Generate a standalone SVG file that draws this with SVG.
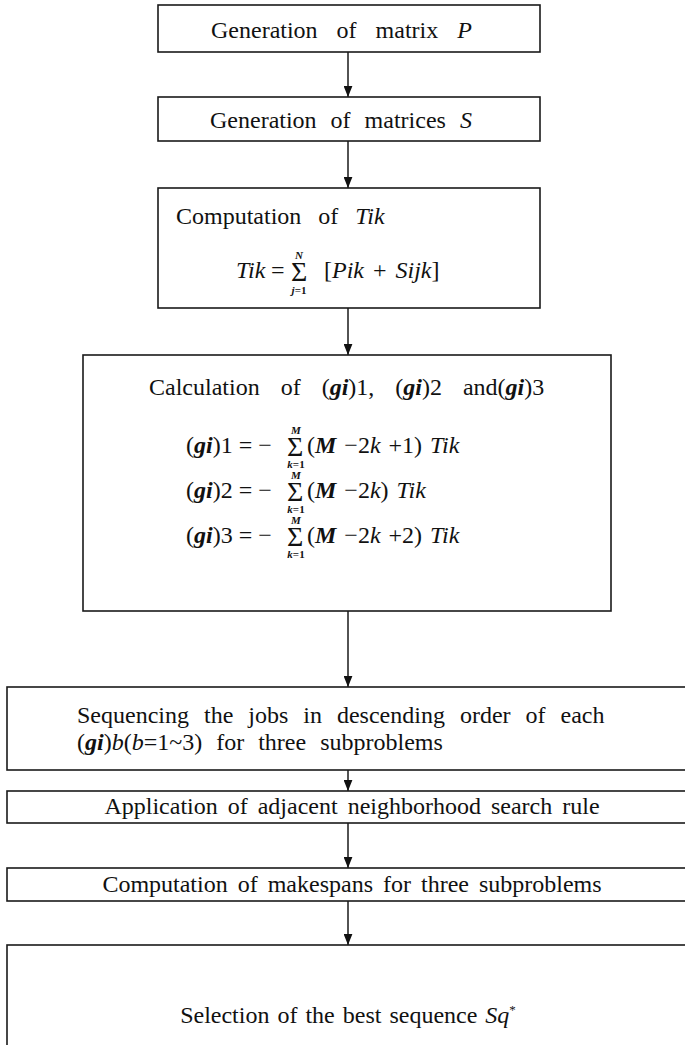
<svg xmlns="http://www.w3.org/2000/svg" width="685" height="1045" viewBox="0 0 685 1045" font-family="'Liberation Serif', 'Times New Roman', serif">
  <style>
    .box { fill: #ffffff; stroke: #1a1a1a; stroke-width: 1.6; }
    .link { fill: none; stroke: #1a1a1a; stroke-width: 1.5; }
    text { font-family: "Liberation Serif", "Times New Roman", serif; fill: #111; }
    .t { font-size: 24px; }
    .i { font-style: italic; }
    .bi { font-style: italic; font-weight: bold; }
    .sig { font-size: 28px; }
    .lim { font-size: 11px; font-style: italic; font-weight: bold; }
  </style>
  <defs>
    <marker id="arrow" viewBox="0 0 10 8" refX="10" refY="4" markerWidth="11" markerHeight="9" markerUnits="userSpaceOnUse" orient="auto">
      <path d="M0,0 L10,4 L0,8 Z" fill="#111"/>
    </marker>
  </defs>

  <rect width="685" height="1045" fill="#ffffff"/>

  <!-- connectors -->
  <g id="connectors">
    <line class="link" x1="348" y1="52" x2="348" y2="97" marker-end="url(#arrow)"/>
    <line class="link" x1="348" y1="141" x2="348" y2="188" marker-end="url(#arrow)"/>
    <line class="link" x1="348" y1="308" x2="348" y2="355" marker-end="url(#arrow)"/>
    <line class="link" x1="348" y1="611" x2="348" y2="687" marker-end="url(#arrow)"/>
    <line class="link" x1="348" y1="770" x2="348" y2="791" marker-end="url(#arrow)"/>
    <line class="link" x1="348" y1="823" x2="348" y2="868" marker-end="url(#arrow)"/>
    <line class="link" x1="348" y1="901" x2="348" y2="945" marker-end="url(#arrow)"/>
  </g>

  <!-- step 1 -->
  <g id="gen-p">
    <rect class="box" x="158" y="5" width="382" height="47"/>
    <text class="t" x="211" y="38" word-spacing="13">Generation of matrix <tspan class="i">P</tspan></text>
  </g>

  <!-- step 2 -->
  <g id="gen-s">
    <rect class="box" x="158" y="97" width="382" height="44"/>
    <text class="t" x="210" y="128" word-spacing="8">Generation of matrices <tspan class="i">S</tspan></text>
  </g>

  <!-- step 3 -->
  <g id="comp-tik">
    <rect class="box" x="158" y="188" width="382" height="120"/>
    <text class="t" x="176" y="224" word-spacing="11">Computation of <tspan class="i">Tik</tspan></text>
    <text class="t i" x="236" y="278">Tik</text>
    <text class="t" x="271" y="278">=</text>
    <text class="sig" x="291" y="281">Σ</text>
    <text class="lim" x="299" y="259" text-anchor="middle">N</text>
    <text class="lim" x="299" y="294" text-anchor="middle">j<tspan font-style="normal">=1</tspan></text>
    <text class="t" x="324" y="278" word-spacing="3">[<tspan class="i">Pik</tspan> + <tspan class="i">Sijk</tspan>]</text>
  </g>

  <!-- step 4 -->
  <g id="calc-gi">
    <rect class="box" x="83" y="355" width="528" height="256"/>
    <text class="t" x="149" y="395" word-spacing="15">Calculation of (<tspan class="bi">gi</tspan>)1, (<tspan class="bi">gi</tspan>)2 and(<tspan class="bi">gi</tspan>)3</text>

    <text class="t" x="186" y="453">(<tspan class="bi">gi</tspan>)1 = −</text>
    <text class="sig" x="287" y="456">Σ</text>
    <text class="lim" x="296" y="434" text-anchor="middle">M</text>
    <text class="lim" x="296" y="468" text-anchor="middle">k<tspan font-style="normal">=1</tspan></text>
    <text class="t" x="307" y="453" word-spacing="2">(<tspan class="bi">M</tspan> −2<tspan class="i">k</tspan> +1) <tspan class="i">Tik</tspan></text>

    <text class="t" x="186" y="498">(<tspan class="bi">gi</tspan>)2 = −</text>
    <text class="sig" x="287" y="501">Σ</text>
    <text class="lim" x="296" y="479" text-anchor="middle">M</text>
    <text class="lim" x="296" y="513" text-anchor="middle">k<tspan font-style="normal">=1</tspan></text>
    <text class="t" x="307" y="498" word-spacing="2">(<tspan class="bi">M</tspan> −2<tspan class="i">k</tspan>) <tspan class="i">Tik</tspan></text>

    <text class="t" x="186" y="543">(<tspan class="bi">gi</tspan>)3 = −</text>
    <text class="sig" x="287" y="546">Σ</text>
    <text class="lim" x="296" y="524" text-anchor="middle">M</text>
    <text class="lim" x="296" y="558" text-anchor="middle">k<tspan font-style="normal">=1</tspan></text>
    <text class="t" x="307" y="543" word-spacing="2">(<tspan class="bi">M</tspan> −2<tspan class="i">k</tspan> +2) <tspan class="i">Tik</tspan></text>
  </g>

  <!-- step 5 -->
  <g id="sequencing">
    <rect class="box" x="7" y="687" width="700" height="83"/>
    <text class="t" x="77" y="723" word-spacing="9">Sequencing the jobs in descending order of each</text>
    <text class="t" x="77" y="750" word-spacing="8">(<tspan class="bi">gi</tspan>)<tspan class="i">b</tspan>(<tspan class="i">b</tspan>=1~3)  for three subproblems</text>
  </g>

  <!-- step 6 -->
  <g id="neighborhood">
    <rect class="box" x="7" y="791" width="700" height="32"/>
    <text class="t" x="352" y="814" text-anchor="middle" word-spacing="4">Application of adjacent neighborhood search rule</text>
  </g>

  <!-- step 7 -->
  <g id="makespans">
    <rect class="box" x="7" y="868" width="700" height="33"/>
    <text class="t" x="352" y="892" text-anchor="middle" word-spacing="4">Computation of makespans for three subproblems</text>
  </g>

  <!-- step 8 -->
  <g id="selection">
    <rect class="box" x="7" y="945" width="700" height="130"/>
    <text class="t" x="348" y="1023" text-anchor="middle" word-spacing="2">Selection of the best sequence <tspan class="i">Sq</tspan><tspan font-size="13" dy="-9">*</tspan></text>
  </g>
</svg>
